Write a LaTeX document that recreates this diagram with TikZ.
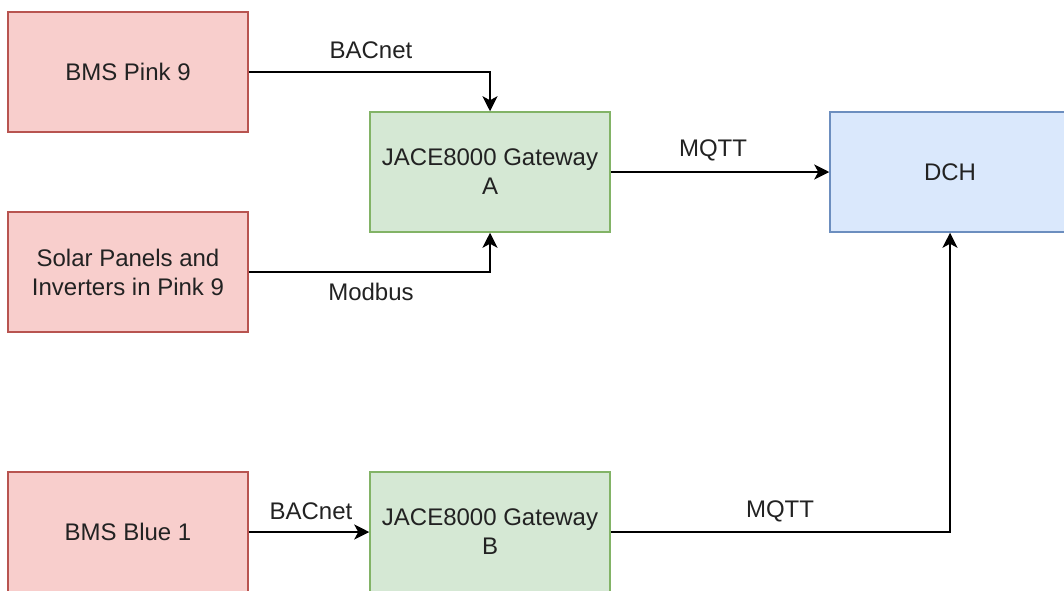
\documentclass[tikz,border=0pt]{standalone}
\usepackage{fontspec}
\setmainfont{Liberation Sans}
\usetikzlibrary{arrows.meta}
\definecolor{pinkfill}{HTML}{F8CECC}
\definecolor{pinkline}{HTML}{B85450}
\definecolor{greenfill}{HTML}{D5E8D4}
\definecolor{greenline}{HTML}{82B366}
\definecolor{bluefill}{HTML}{DAE8FC}
\definecolor{blueline}{HTML}{6C8EBF}
\definecolor{txt}{HTML}{222222}
\tikzset{
  box/.style={draw, line width=1.5pt, minimum width=240pt, minimum height=120pt,
    inner sep=0pt, align=center, text=txt,
    font=\fontsize{24}{29}\selectfont},
  pinkbox/.style={box, fill=pinkfill, draw=pinkline},
  greenbox/.style={box, fill=greenfill, draw=greenline},
  bluebox/.style={box, fill=bluefill, draw=blueline},
  conn/.style={draw=black, line width=2pt, -{Stealth[length=15pt,width=15pt,inset=4pt]}},
  lbl/.style={text=txt, inner sep=0pt, font=\fontsize{24}{29}\selectfont}
}
\begin{document}
\begin{tikzpicture}[x=1pt,y=-1pt]
\useasboundingbox (0,0) rectangle (1064,590);
\clip (0,0) rectangle (1064,590);
\fill[white] (0,0) rectangle (1064,590);
\node[pinkbox] (p9) at (128,72) {BMS Pink 9};
\node[pinkbox] (sol) at (128,272) {Solar Panels and\\Inverters in Pink 9};
\node[pinkbox] (b1) at (128,532) {BMS Blue 1};
\node[greenbox] (ja) at (490,172) {JACE8000 Gateway\\A};
\node[greenbox] (jb) at (490,532) {JACE8000 Gateway\\B};
\node[bluebox] (dch) at (950,172) {DCH};
\draw[conn] (p9.east) -| (ja.north);
\draw[conn] (sol.east) -| (ja.south);
\draw[conn] (b1.east) -- (jb.west);
\draw[conn] (ja.east) -- (dch.west);
\draw[conn] (jb.east) -| (dch.south);
\node[lbl] (l1) at (371,50) {BACnet};
\node[lbl] (l2) at (371,292) {Modbus};
\node[lbl] (l3) at (713,150) {MQTT};
\node[lbl] (l4) at (311,511) {BACnet};
\node[lbl] (l5) at (780,511) {MQTT};
\end{tikzpicture}
\end{document}
